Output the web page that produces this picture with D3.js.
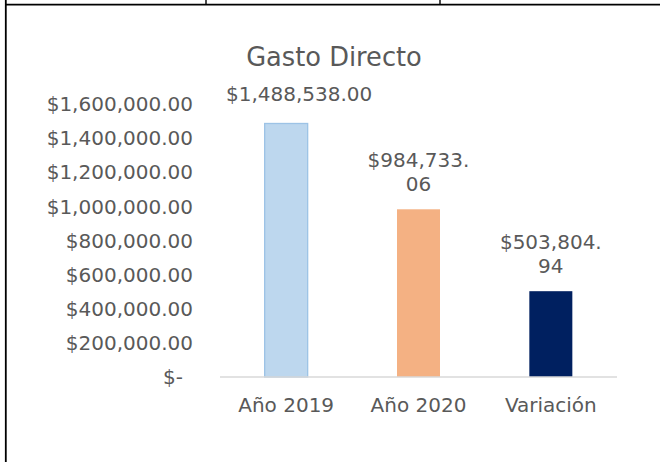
<!DOCTYPE html>
<html>
<head>
<meta charset="utf-8">
<script src="https://cdn.jsdelivr.net/npm/d3@7"></script>
<style>
  body { margin: 0; background: #fff; }
  svg { display: block; }
  text { font-family: "DejaVu Sans", sans-serif; fill: #595959; }
</style>
</head>
<body>
<svg id="chart" width="660" height="462"></svg>
<script>
// Chart data
const title = "Gasto Directo";
const categories = ["Año 2019", "Año 2020", "Variación"];
const values = [1488538.00, 984733.06, 503804.94];
const yTicks = [0, 200000, 400000, 600000, 800000, 1000000, 1200000, 1400000, 1600000];
const yMax = 1600000;

const svg = d3.select("#chart");

// Spreadsheet grid lines around the chart
const grid = svg.append("g").attr("stroke", "#000");
grid.append("line").attr("x1", 5.8).attr("x2", 5.8).attr("y1", 0).attr("y2", 462).attr("stroke-width", 1.8);
grid.append("line").attr("x1", 5).attr("x2", 660).attr("y1", 4.6).attr("y2", 4.6).attr("stroke-width", 1.6);
[206, 440].forEach(x => grid.append("line").attr("x1", x).attr("x2", x).attr("y1", 0).attr("y2", 4).attr("stroke-width", 1.4));

// Scales
const x = d3.scaleBand().domain(categories).range([220, 617]).paddingInner(0.675).paddingOuter(0.3375);
const y = d3.scaleLinear().domain([0, yMax]).range([377, 104.5]);

const money = d3.format("$,.2f");
const tickFmt = v => v === 0 ? "$-" : money(v);

// Title
svg.append("text")
  .attr("x", 334).attr("y", 66)
  .attr("text-anchor", "middle")
  .style("font-size", "25.7px")
  .text(title);

// Y axis labels (no axis line, no gridlines)
const yAxis = d3.axisLeft(y).tickValues(yTicks).tickFormat(tickFmt).tickSize(0).tickPadding(0);
const yg = svg.append("g").attr("transform", "translate(193,0)").call(yAxis);
yg.select(".domain").remove();
yg.selectAll("text")
  .attr("dy", null)
  .attr("y", 6.3)
  .attr("dx", d => d === 0 ? -10 : 0)
  .style("font-size", "20px")
  .style("font-family", '"DejaVu Sans", sans-serif')
  .attr("fill", "#595959");

// Bars
const colors = ["#bdd7ee", "#f4b183", "#002060"];
const strokes = ["#9dc3e6", "none", "none"];
svg.append("g").selectAll("rect")
  .data(values)
  .join("rect")
  .attr("x", (d, i) => x(categories[i]))
  .attr("y", d => y(d))
  .attr("width", x.bandwidth())
  .attr("height", d => y(0) - y(d))
  .attr("fill", (d, i) => colors[i])
  .attr("stroke", (d, i) => strokes[i])
  .attr("stroke-width", 1.3);

// Category axis line
svg.append("line")
  .attr("x1", 220).attr("x2", 617)
  .attr("y1", y(0)).attr("y2", y(0))
  .attr("stroke", "#d9d9d9").attr("stroke-width", 1.5);

// Category labels
const xAxis = d3.axisBottom(x).tickSize(0).tickPadding(0);
const xg = svg.append("g").attr("transform", "translate(0,0)").call(xAxis);
xg.select(".domain").remove();
xg.selectAll("text")
  .attr("dy", null)
  .attr("y", 412)
  .style("font-size", "20px")
  .style("font-family", '"DejaVu Sans", sans-serif')
  .attr("fill", "#595959");

// Value labels; the narrower ones wrap after the decimal point
const wrapped = [false, true, true];
const lg = svg.append("g").style("font-size", "20px").attr("text-anchor", "middle");
values.forEach((v, i) => {
  const s = money(v);
  const cx = x(categories[i]) + x.bandwidth() / 2;
  if (wrapped[i]) {
    const cut = s.indexOf(".") + 1;
    const lines = [s.slice(0, cut), s.slice(cut)];
    const t = lg.append("text").attr("x", cx);
    lines.forEach((ln, k) => {
      t.append("tspan").attr("x", cx).attr("y", y(v) - 18 - (lines.length - 1 - k) * 24).text(ln);
    });
  } else {
    lg.append("text").attr("x", cx + 13).attr("y", y(v) - 22).text(s);
  }
});
</script>
</body>
</html>
